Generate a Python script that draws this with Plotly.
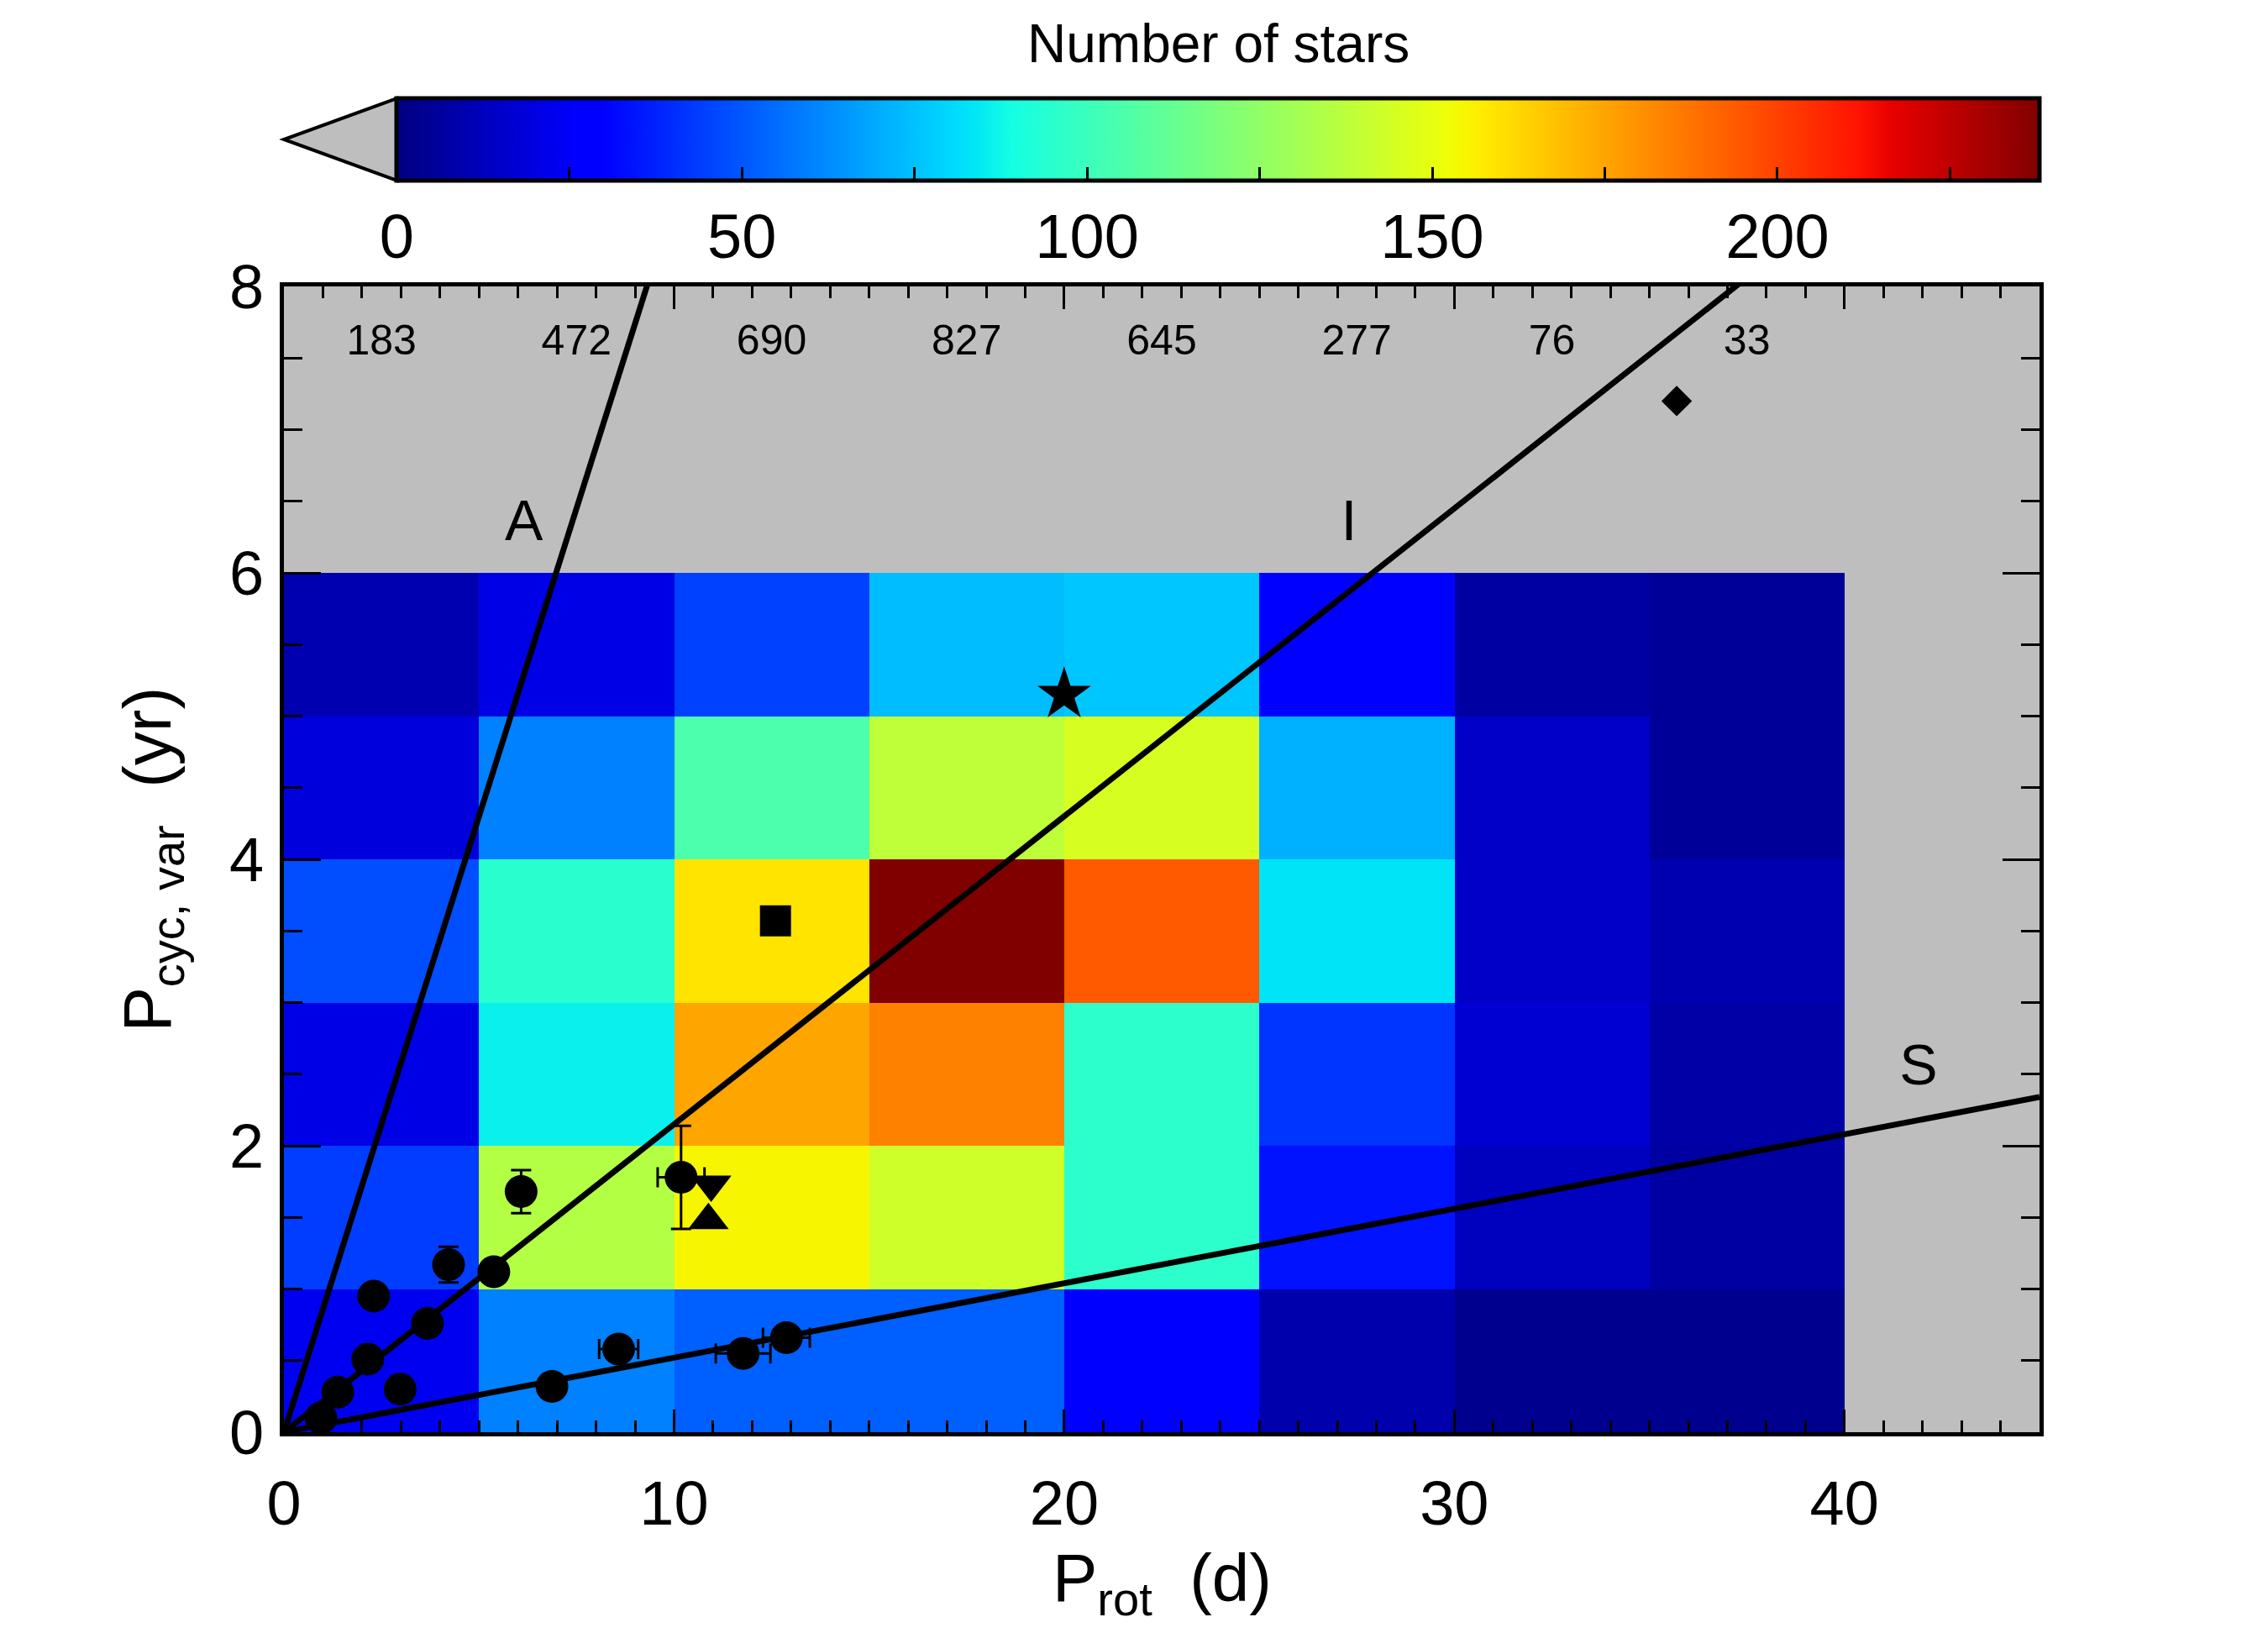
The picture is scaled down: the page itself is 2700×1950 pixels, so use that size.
import numpy as np
import plotly.graph_objects as go

# ---------------- data ----------------
prot_edges = [0, 5, 10, 15, 20, 25, 30, 35, 40]          # P_rot bins (d)
pcyc_edges = [0, 1, 2, 3, 4, 5, 6]                       # P_cyc bins (yr)
# number of stars per cell, rows = P_cyc bins (bottom -> top)
counts = [
    [23, 60, 52, 52, 28, 9, 3, 3],
    [44, 135, 155, 143, 96, 34, 13, 7],
    [21, 86, 175, 184, 96, 42, 17, 8],
    [48, 95, 159, 238, 194, 83, 15, 10],
    [19, 60, 105, 138, 145, 71, 15, 5],
    [10, 21, 45, 74, 76, 28, 7, 5],
]
col_totals = ["183", "472", "690", "827", "645", "277", "76", "33"]
col_total_y = 7.6

# branch lines P_cyc = slope * P_rot
branch_names = ["A", "I", "S"]
branch_slopes = [0.86, 0.215, 0.052]
branch_label_x = [6.15, 27.3, 41.9]
branch_label_y = [6.33, 6.33, 2.53]

# individual stars (circles)
circ_prot = [0.95, 1.38, 2.15, 2.98, 2.30, 3.68, 4.22, 5.38, 6.08, 6.87, 8.58, 10.18, 11.77, 12.88]
circ_pcyc = [0.10, 0.28, 0.51, 0.30, 0.95, 0.76, 1.17, 1.12, 1.68, 0.32, 0.58, 1.78, 0.55, 0.66]
circ_err_prot = [0, 0, 0, 0, 0, 0, 0, 0, 0, 0, 0.5, 0.6, 0.7, 0.6]
circ_err_pcyc = [0, 0, 0, 0, 0, 0, 0.125, 0, 0.15, 0, 0, 0.36, 0, 0]

# special stars
special_prot = [10.95, 10.88, 12.6, 20.0, 35.7]
special_pcyc = [1.73, 1.48, 3.57, 5.15, 7.2]
special_symbol = ["triangle-down", "triangle-up", "square", "star", "diamond"]
special_size = [42, 42, 37, 48, 28]

cmin, cmax = 0, 238
cbar_dtick = 25

# ---------------- colour scale (jet) ----------------
r_seg = [(0, 0), (0.35, 0), (0.66, 1), (0.89, 1), (1, 0.5)]
g_seg = [(0, 0), (0.125, 0), (0.375, 1), (0.64, 1), (0.91, 0), (1, 0)]
b_seg = [(0, 0.5), (0.11, 1), (0.34, 1), (0.65, 0), (1, 0)]
stops = sorted(set([p for seg in (r_seg, g_seg, b_seg) for p, _ in seg]))


def chan(seg, t):
    return float(np.interp(t, [p for p, _ in seg], [v for _, v in seg]))


jet = [[t, "rgb(%d,%d,%d)" % (round(255 * chan(r_seg, t)), round(255 * chan(g_seg, t)),
                              round(255 * chan(b_seg, t)))] for t in stops]

FONT = "Liberation Sans Narrow, Liberation Sans, Arial Narrow, sans-serif"

# ---------------- geometry (px) ----------------
FW, FH = 2700, 1950
L, R, T, B = 337.5, 2428, 341, 1705
W, H = R - L, B - T


def px(xp):
    return (xp - L) / W


def py(yp):
    return (B - yp) / H


fig = go.Figure()

fig.add_trace(go.Heatmap(
    x=prot_edges, y=pcyc_edges, z=counts, zmin=cmin, zmax=cmax,
    colorscale=jet, hoverinfo="skip",
    colorbar=dict(
        orientation="h", lenmode="pixels", len=1956, thickness=98,
        x=px((472 + 2428) / 2), xanchor="center",
        y=py(117), yanchor="top", xpad=0, ypad=0,
        outlinewidth=5, outlinecolor="black",
        tickmode="linear", tick0=0, dtick=cbar_dtick, ticklabelstep=2,
        ticks="inside", ticklen=18, tickwidth=3, tickcolor="black",
        tickfont=dict(family=FONT, size=74, color="black"),
        title=dict(text=""),
    ),
))

# branch lines
x_end = 45
for name, s in zip(branch_names, branch_slopes):
    fig.add_trace(go.Scatter(x=[0, x_end], y=[0, s * x_end], mode="lines",
                             line=dict(color="black", width=7), hoverinfo="skip"))

# column totals
centers = [(a + b) / 2 for a, b in zip(prot_edges[:-1], prot_edges[1:])]
fig.add_trace(go.Scatter(x=centers, y=[col_total_y] * len(centers), mode="text",
                         text=col_totals,
                         textfont=dict(family=FONT, size=50, color="black"),
                         hoverinfo="skip"))

# branch labels
fig.add_trace(go.Scatter(x=branch_label_x, y=branch_label_y, mode="text",
                         text=branch_names,
                         textfont=dict(family=FONT, size=68, color="black"),
                         hoverinfo="skip"))

# circles with error bars
fig.add_trace(go.Scatter(
    x=circ_prot, y=circ_pcyc, mode="markers",
    marker=dict(symbol="circle", size=39, color="black", opacity=1),
    error_x=dict(type="data", array=circ_err_prot, color="black", thickness=3, width=12),
    error_y=dict(type="data", array=circ_err_pcyc, color="black", thickness=3, width=12),
))

# special symbols
fig.add_trace(go.Scatter(
    x=special_prot, y=special_pcyc, mode="markers",
    marker=dict(symbol=special_symbol, size=special_size, color="black", opacity=1,
                line=dict(width=0)),
))

# colorbar lower extension triangle
x0 = px(472)
fig.add_shape(type="path", xref="paper", yref="paper",
              path="M %f,%f L %f,%f L %f,%f Z" % (x0, py(117), x0, py(215), px(L), py(166)),
              fillcolor="#bebebe", line=dict(color="black", width=4), layer="above")

annos = [
    dict(text="Number of stars", x=px(1450), y=py(52), xref="paper", yref="paper",
         xanchor="center", yanchor="middle", showarrow=False,
         font=dict(family=FONT, size=64, color="black")),
    dict(text="P<sub>rot</sub>  (d)", x=0.5, y=py(1884), xref="paper", yref="paper",
         xanchor="center", yanchor="middle", showarrow=False,
         font=dict(family=FONT, size=80, color="black")),
    dict(text="P<sub>cyc, var</sub>  (yr)", x=px(180), y=0.5, xref="paper", yref="paper",
         xanchor="center", yanchor="middle", showarrow=False, textangle=-90,
         font=dict(family=FONT, size=80, color="black")),
]

axis_common = dict(showgrid=False, zeroline=False, showline=True, linewidth=5,
                   linecolor="black", mirror="allticks", ticks="inside",
                   tickcolor="black", tickwidth=3,
                   tickfont=dict(family=FONT, size=74, color="black"))

fig.update_layout(
    width=FW, height=FH,
    margin=dict(l=L, r=FW - R, t=T, b=FH - B, pad=0),
    paper_bgcolor="white", plot_bgcolor="#bebebe",
    showlegend=False,
    annotations=annos,
    xaxis=dict(range=[0, 45], tickmode="array", tickvals=[0, 10, 20, 30, 40],
               ticklen=27, ticklabelstandoff=16,
               minor=dict(dtick=1, tick0=0, ticklen=14, tickwidth=3, ticks="inside",
                          tickcolor="black", showgrid=False),
               **axis_common),
    yaxis=dict(range=[0, 8], tickmode="array", tickvals=[0, 2, 4, 6, 8],
               ticklen=44, ticklabelstandoff=4,
               minor=dict(dtick=0.5, tick0=0, ticklen=22, tickwidth=3, ticks="inside",
                          tickcolor="black", showgrid=False),
               **axis_common),
)

fig.write_html("out.html")
